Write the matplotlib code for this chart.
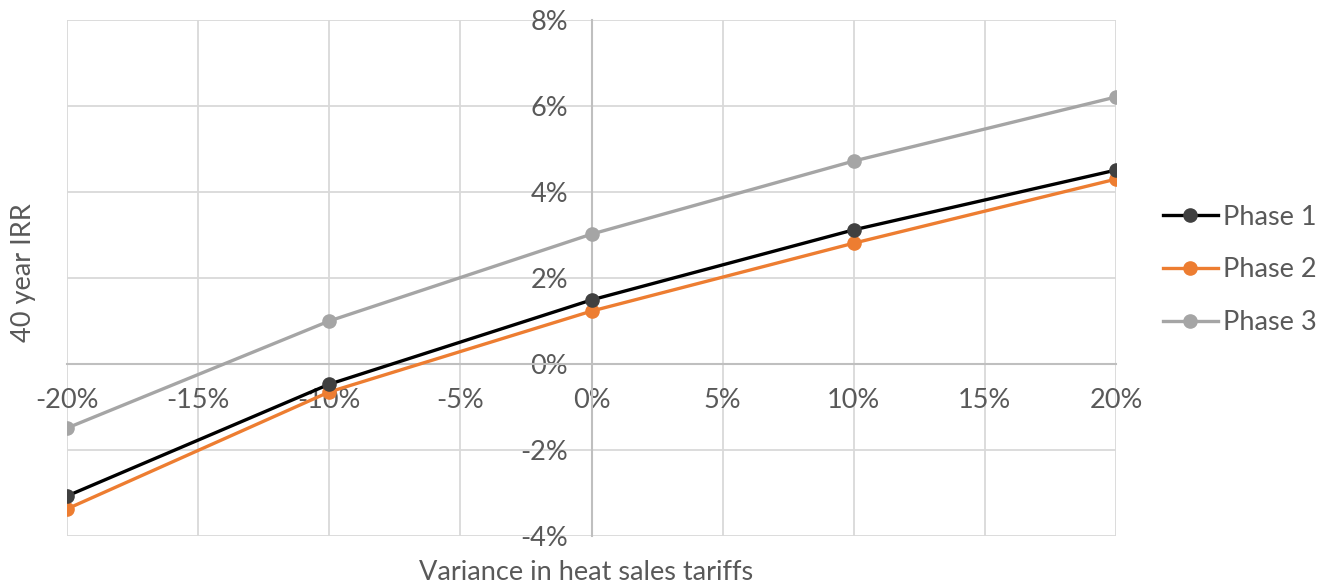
import matplotlib
matplotlib.use("Agg")
import matplotlib.pyplot as plt
from matplotlib import font_manager
from matplotlib.ticker import FuncFormatter, MultipleLocator

# Sensitivity of 40-year IRR to heat sales tariff variance
variance = [-20, -10, 0, 10, 20]
phase1 = [-3.07, -0.47, 1.49, 3.12, 4.51]
phase2 = [-3.37, -0.65, 1.23, 2.81, 4.30]
phase3 = [-1.49, 1.00, 3.02, 4.72, 6.21]
series_names = ["Phase 1", "Phase 2", "Phase 3"]

names = {f.name for f in font_manager.fontManager.ttflist}
family = "Liberation Sans Narrow" if "Liberation Sans Narrow" in names else "Lato"
plt.rcParams["font.family"] = [family, "DejaVu Sans"]

text_color = "#595959"
fs = 19.5

W, H = 1327, 588
fig = plt.figure(figsize=(W / 100, H / 100), dpi=100)
ax = fig.add_axes([67 / W, 1 - 536 / H, (1116 - 67) / W, (536 - 20) / H])

ax.plot(variance, phase1, color="black", lw=2.4, marker="o", ms=9.5,
        mfc="#404040", mec="#404040", label=series_names[0], zorder=4)
ax.plot(variance, phase2, color="#ED7D31", lw=2.4, marker="o", ms=9.5,
        label=series_names[1], zorder=3)
ax.plot(variance, phase3, color="#A5A5A5", lw=2.4, marker="o", ms=9.5,
        label=series_names[2], zorder=3)

ax.set_xlim(-20, 20)
ax.set_ylim(-4, 8)
ax.xaxis.set_major_locator(MultipleLocator(5))
ax.yaxis.set_major_locator(MultipleLocator(2))
pct = FuncFormatter(lambda v, _: f"{v:.0f}%")
ax.xaxis.set_major_formatter(pct)
ax.yaxis.set_major_formatter(pct)

ax.grid(True, color="#d9d9d9", lw=1.3, zorder=0)
ax.set_axisbelow(True)
for s in ("top", "right"):
    ax.spines[s].set_visible(False)
ax.spines["left"].set_position(("data", 0))
ax.spines["bottom"].set_position(("data", 0))
for s in ("left", "bottom"):
    ax.spines[s].set_color("#bfbfbf")
    ax.spines[s].set_linewidth(1.5)
    ax.spines[s].set_zorder(1)

ax.tick_params(axis="both", length=0, labelsize=fs, labelcolor=text_color)
ax.tick_params(axis="y", pad=17)
ax.tick_params(axis="x", pad=17)

fig.text(586 / W, 1 - 572 / H, "Variance in heat sales tariffs",
         ha="center", va="center", fontsize=fs, color=text_color)
fig.text(23 / W, 1 - 273 / H, "40 year IRR", rotation=90,
         ha="center", va="center", fontsize=fs, color=text_color)

leg = fig.legend(loc="center left", bbox_to_anchor=(1163 / W, 1 - 270 / H),
                 frameon=False, fontsize=fs, labelcolor=text_color,
                 borderpad=0, borderaxespad=0,
                 handlelength=2.03, handletextpad=0.2, labelspacing=1.03)

fig.savefig("out.png", dpi=100)
